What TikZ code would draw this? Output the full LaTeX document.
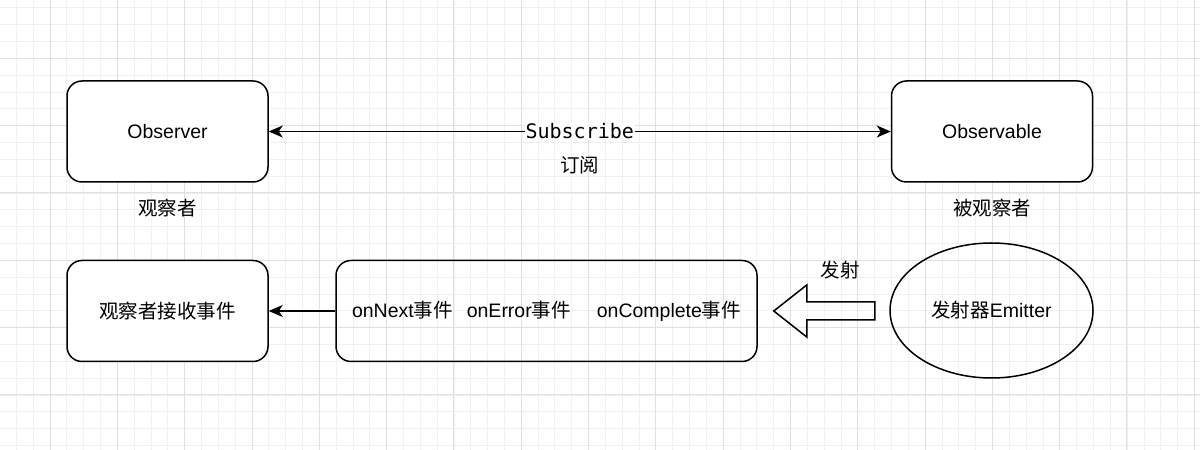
\documentclass[tikz,border=0pt]{standalone}
\usepackage{fontspec}
\setmainfont{Liberation Sans}
\newfontfamily\cjk{Noto Sans CJK SC}
\newfontfamily\monofont{DejaVu Sans Mono}
\usetikzlibrary{arrows.meta,shapes.geometric,positioning}
\newcommand{\zh}[1]{{\cjk #1}}

\begin{document}
\begin{tikzpicture}[x=1pt,y=1pt,
	>={Stealth[length=14pt,width=12pt,inset=4pt]},
	box/.style={draw, line width=1.5pt, rounded corners=15pt, minimum width=201pt, minimum height=101pt, inner sep=0pt, font=\fontsize{19.5}{23}\selectfont},
	txt/.style={inner sep=0pt, font=\fontsize{19.5}{23}\selectfont},
	link/.style={line width=1.3pt}]
	\useasboundingbox (0,0) rectangle (1200,450);
	%GRID
	\begin{scope}
		\clip (0,0) rectangle (1200,450);
		\fill[white] (0,0) rectangle (1200,450);
		\draw[black!6, line width=0.8pt, shift={(-0.5,4.6)}, step=16.83pt] (-20,-20) grid (1220,470);
		\draw[black!12, line width=0.8pt, shift={(50,55.2)}, step=67.3pt] (-100,-100) grid (1220,470);
	\end{scope}
	%TOP ROW
	\node[box, fill=white] (observer) at (167.5,318.5) {Observer};
	\node[box, fill=white] (observable) at (992,318.5) {Observable};
	\node[txt, below=16pt of observer] (observerlbl) {\zh{观察者}};
	\node[txt, below=16pt of observable] (observablelbl) {\zh{被观察者}};
	\draw[link, <->] (observer) -- (observable) node[midway, fill=white, inner sep=1pt, font=\monofont\fontsize{20}{24}\selectfont] (subscribe) {Subscribe};
	\node[txt, below=15.5pt of subscribe] (subscribelbl) {\zh{订阅}};
	%BOTTOM ROW
	\node[box, fill=white] (receiver) at (167.5,139) {\zh{观察者接收事件}};
	\node[box, minimum width=421pt] (events) at (546.5,139) {onNext\zh{事件}\hspace{14pt}onError\zh{事件}\hspace{26pt}onComplete\zh{事件}};
	\draw[link, ->] (events) -- (receiver);
	\node[draw, ellipse, line width=1.5pt, minimum width=203pt, minimum height=135pt, inner sep=0pt, font=\fontsize{19.5}{23}\selectfont] (emitter) at (991.5,139.5) {\zh{发射器}Emitter};
	\draw[line width=1.5pt, line join=miter] ([xshift=16pt]events.east) -- ++(33,26) -- ++(0,-17) -- ++(68,0) -- ++(0,-18) -- ++(-68,0) -- ++(0,-17) -- cycle;
	\node[txt] (fire) at (840,180) {\zh{发射}};
\end{tikzpicture}
\end{document}
